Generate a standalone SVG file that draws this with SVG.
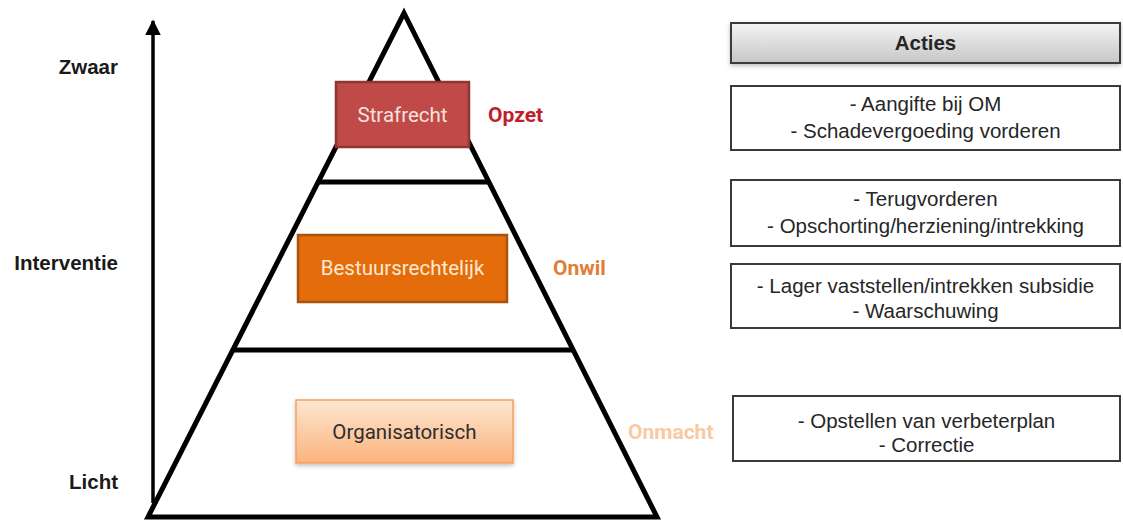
<svg xmlns="http://www.w3.org/2000/svg" width="1123" height="521" viewBox="0 0 1123 521">
<defs>
<linearGradient id="gOrg" x1="0" y1="0" x2="0" y2="1">
<stop offset="0" stop-color="#fde6d2"/>
<stop offset="1" stop-color="#fbb37c"/>
</linearGradient>
<linearGradient id="gAct" x1="0" y1="0" x2="0" y2="1">
<stop offset="0" stop-color="#f4f4f4"/>
<stop offset="1" stop-color="#c6c6c6"/>
</linearGradient>
<filter id="sh" x="-10%" y="-20%" width="120%" height="150%">
<feDropShadow dx="0" dy="2" stdDeviation="2" flood-color="#000" flood-opacity="0.25"/>
</filter>
<marker id="ah" viewBox="0 0 10 10" refX="9" refY="5" markerWidth="4.5" markerHeight="4.5" orient="auto">
<path d="M0,0 L10,5 L0,10 z" fill="#000"/>
</marker>
</defs>
<style>
.lbl{font-family:"Liberation Sans",Arial,sans-serif;font-weight:bold;font-size:20.5px;fill:#1a1a1a;text-anchor:end}
.pt{font-family:Roboto,"Liberation Sans",sans-serif;font-size:20.5px;text-anchor:middle}
.side{font-family:Roboto,"Liberation Sans",sans-serif;font-weight:bold;font-size:21px}
.box{fill:#fff;stroke:#3a3a3a;stroke-width:2}
.bt{font-family:"Liberation Sans",Arial,sans-serif;font-size:20.5px;fill:#262626;text-anchor:middle}
.pyr{fill:#fff;stroke:#000;stroke-width:5;stroke-linejoin:miter}
</style>
<rect width="1123" height="521" fill="#fff"/>
<g id="axis">
<line x1="153" y1="503" x2="153" y2="21" stroke="#000" stroke-width="3.5" marker-end="url(#ah)"/>
<text class="lbl" x="118" y="74">Zwaar</text>
<text class="lbl" x="118" y="270">Interventie</text>
<text class="lbl" x="118" y="489">Licht</text>
</g>
<g id="pyramid">
<polygon class="pyr" points="404,13 657,517 148,517"/>
<line x1="317" y1="182" x2="490" y2="182" stroke="#000" stroke-width="5"/>
<line x1="233" y1="350" x2="574" y2="350" stroke="#000" stroke-width="5"/>
</g>
<g id="strafrecht">
<rect x="336" y="82" width="133" height="65" fill="#bf4a47" stroke="#8f3532" stroke-width="2.5"/>
<text class="pt" x="402.5" y="122" fill="#f6e0df">Strafrecht</text>
</g>
<g id="bestuursrechtelijk">
<rect x="298" y="235" width="209" height="67" fill="#e46c0a" stroke="#a9520c" stroke-width="2.5"/>
<text class="pt" x="402.5" y="275" fill="#fde9d4">Bestuursrechtelijk</text>
</g>
<g id="organisatorisch">
<rect x="296" y="400" width="217" height="63" fill="url(#gOrg)" stroke="#f6a15f" stroke-width="1.5" filter="url(#sh)"/>
<text class="pt" x="404.5" y="439" fill="#2e2e2e">Organisatorisch</text>
</g>
<g id="labels">
<text class="side" x="488" y="122" fill="#c0202b">Opzet</text>
<text class="side" x="553" y="275" fill="#e37d36">Onwil</text>
<text class="side" x="628" y="439" fill="#f9c9a2">Onmacht</text>
</g>
<g id="acties">
<rect x="731" y="23" width="389" height="40" fill="url(#gAct)" stroke="#3a3a3a" stroke-width="2" filter="url(#sh)"/>
<text class="bt" x="925.5" y="50" font-weight="bold">Acties</text>
</g>
<g id="actie1">
<rect class="box" x="731" y="86" width="389" height="64"/>
<text class="bt" x="925.5" y="111">- Aangifte bij OM</text>
<text class="bt" x="925.5" y="138">- Schadevergoeding vorderen</text>
</g>
<g id="actie2">
<rect class="box" x="731" y="180" width="389" height="66"/>
<text class="bt" x="925.5" y="206">- Terugvorderen</text>
<text class="bt" x="925.5" y="233">- Opschorting/herziening/intrekking</text>
</g>
<g id="actie3">
<rect class="box" x="731" y="264" width="389" height="64"/>
<text class="bt" x="925.5" y="293">- Lager vaststellen/intrekken subsidie</text>
<text class="bt" x="925.5" y="318">- Waarschuwing</text>
</g>
<g id="actie4">
<rect class="box" x="733" y="396" width="387" height="65"/>
<text class="bt" x="926.5" y="428">- Opstellen van verbeterplan</text>
<text class="bt" x="926.5" y="452">- Correctie</text>
</g>
</svg>
